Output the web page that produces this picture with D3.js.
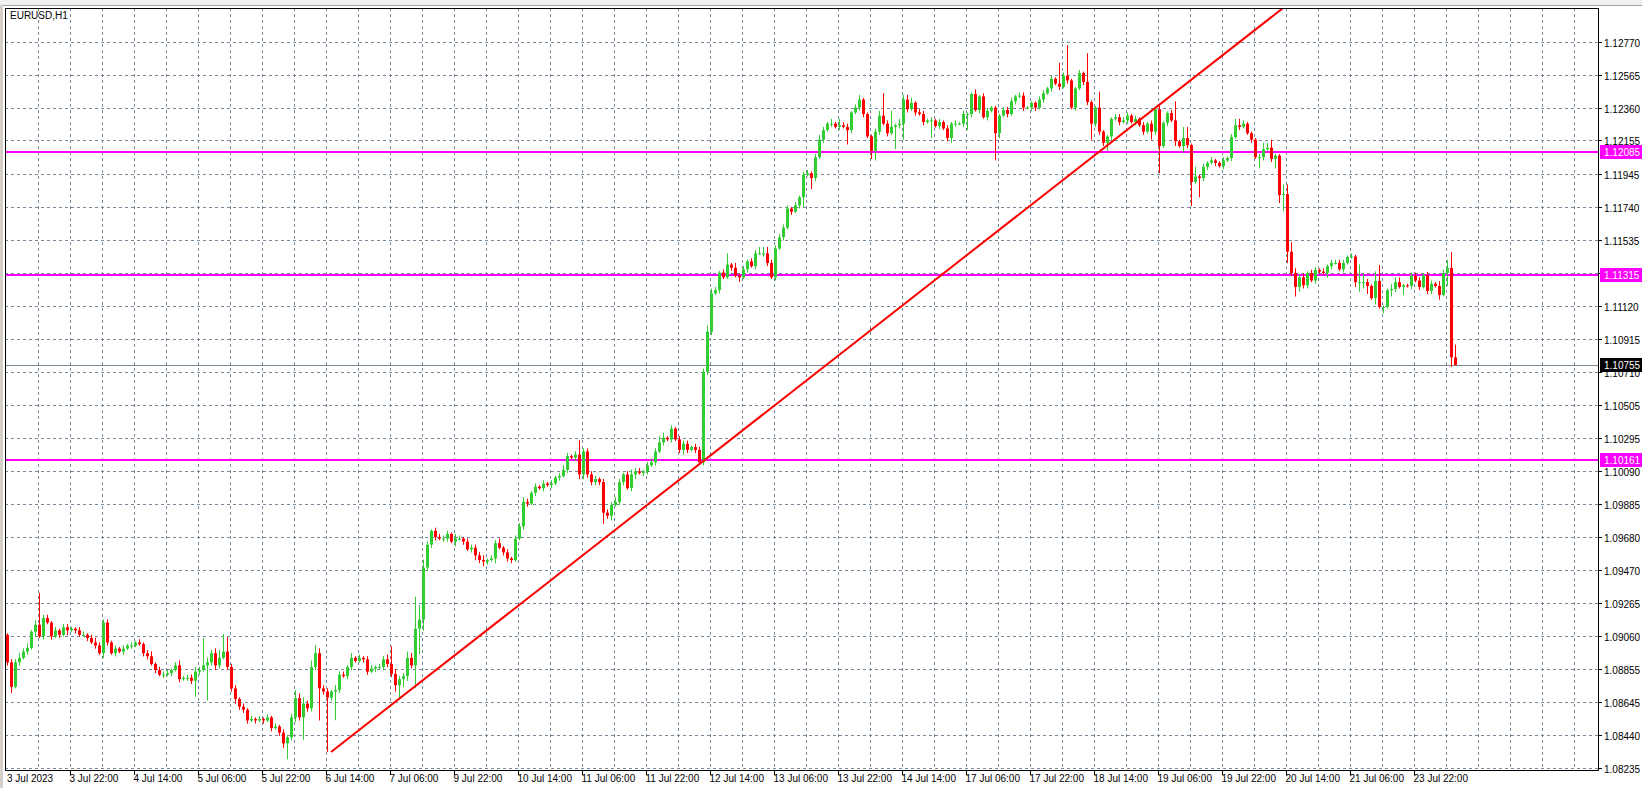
<!DOCTYPE html>
<html>
<head>
<meta charset="utf-8">
<script src="https://cdn.jsdelivr.net/npm/d3@7"></script>
<style>
  body { margin: 0; background: #fff; }
  svg { display: block; font-family: "Liberation Sans", Arial, sans-serif; }
</style>
</head>
<body>
<svg id="chart" width="1642" height="788"></svg>
<script>
// EURUSD H1 closes, in points (0.0001) above 1.08000
const closePts = [
  89.5,74.2,89.5,92.3,96.2,98.5,108.6,112.9,105.7,117.2,
  114.3,105.7,109.5,106.7,111.4,109.5,110.5,109.5,106.7,106.7,
  104.7,101.9,100,95.2,114.3,101.9,95.2,98.1,96.2,98.1,
  100,100,101.9,100.9,95.2,93.3,88.5,84.7,81.8,81.8,
  82.8,84.7,87.6,79,79.9,79.9,78,83.7,84.7,87.6,
  89.5,95.2,87.6,92.3,96.2,86.6,73.2,66.6,61.8,59.9,
  53.2,54.1,53.2,54.1,53.2,55.1,48.4,49.4,45.6,38.9,
  42.7,55.1,67.1,55.1,63.7,60.8,86.6,95.2,73.2,71.3,
  67.5,71.3,72.3,81.8,80.9,86.6,92.3,90.4,92.3,91.4,
  83.7,85.6,86.6,86.6,91.4,88.5,82.3,75.2,79,80.9,
  92.3,87.6,110.5,116.2,148.7,163,171.6,167.7,166.8,166.8,
  169.7,164.9,166.8,166.8,164.9,160.1,161.1,156.3,153.4,152.5,
  153.4,154.4,163.9,161.1,158.2,154.4,153.4,166.8,174.4,189.7,
  188.7,195.4,199.2,198.3,201.2,200.2,201.2,205,205.9,209.7,
  218.3,217.4,219.3,206.9,221.2,206.9,202.1,204,202.1,183,
  181.1,187.8,189.7,202.1,206.9,198.3,206.9,208.8,207.8,208.8,
  212.6,214.5,221.2,226.9,229.8,228.8,235.5,228.8,222.2,226,
  222.2,224,222.2,214.5,271,296,320,322,333,330,
  338,336,331,330,335,340,337,345,345,345,
  339,330,348,355,361,373,371,375,380,394,
  395,392,405,416,422,426,426,424,425,424,
  422,433,436,441,432,418,409,421,431,426,
  420,424,425,426,441,435,439,433,432,427,
  428,428,424.5,427,423,417,426,426,426,432,
  432,444.5,434.5,443,430,434,436,420,431,434.5,
  432,440,443,443.5,436,436,439,436,441,445,
  448,454,451,449,456,453,436,448,457.6,452,
  439.5,426,436,421,414,418,429,430,427,428,
  431,427,429,425,421,426,421,435,412,426.5,
  432.6,428,415,412,417,412.6,389.5,393,392,399,
  401.5,403,401.5,399.5,403,404.5,417.6,425,424,426,
  420,416,405,405,410,411,404,406,381.4,382,
  346,332.7,324,330,325,332.7,328,334.6,333.6,332.7,
  337,339,339,335,339,342.7,343,327,327,327,
  324.6,317,327.7,311.5,311.5,322,322.7,327,324,325,
  324.6,331,328,324,331.4,321.5,326,324.6,319,332.7,
  335.8,280,275.2
];
const firstOpenPts = 106.7;
// upper / lower wick lengths per bar, one base-36 digit each, in points
const upperWick =
  "12232313k2" + "2121221122" + "1232221212" + "1212123122" + "212312232h" +
  "3235b92212" + "1212121212" + "1253424532" + "2132213121" + "221223b322" +
  "43k9521222" + "2132122223" + "1223121223" + "2121212123" + "2129222212" +
  "2232123221" + "2224312122" + "2122243212" + "7131212244" + "4222221212" +
  "2123213142" + "212311123e" + "2a13333122" + "1212121212" + "1131221112" +
  "2212211122" + "121d2j1121" + "i11a111222" + "2121212121" + "12c1771612" +
  "1211212442" + "1112435116" + "6632212212" + "12222121b5" + "216a113331" +
  "1222122132" + "5a8";
const lowerWick =
  "2412121312" + "1212131211" + "2121321212" + "1211221212" + "1212122a21" +
  "m232122322" + "2121212123" + "a232e222k2" + "y2i2122112" + "2121222495" +
  "32eg722212" + "2131212323" + "2131222112" + "2121212121" + "2123322227" +
  "2312212312" + "2121212123" + "2121222121" + "1213121212" + "2121212126" +
  "1721212121" + "9212215621" + "21e2a21212" + "1b12123212" + "a212121h31" +
  "2121212212" + "1212121212" + "2a22252121" + "21212152h1" + "213142f1c2" +
  "2121212121" + "121721265a" + "7263221211" + "3211211364" + "5141414215" +
  "1212122131" + "860";

const priceLabels = ["1.12770","1.12565","1.12360","1.12155","1.11945","1.11740","1.11535","1.11330",
  "1.11120","1.10915","1.10710","1.10505","1.10295","1.10090","1.09885","1.09680","1.09470",
  "1.09265","1.09060","1.08855","1.08645","1.08440","1.08235"];
const timeLabels = ["3 Jul 22:00","4 Jul 14:00","5 Jul 06:00","5 Jul 22:00","6 Jul 14:00","7 Jul 06:00",
  "9 Jul 22:00","10 Jul 14:00","11 Jul 06:00","11 Jul 22:00","12 Jul 14:00","13 Jul 06:00",
  "13 Jul 22:00","14 Jul 14:00","17 Jul 06:00","17 Jul 22:00","18 Jul 14:00","19 Jul 06:00",
  "19 Jul 22:00","20 Jul 14:00","21 Jul 06:00","23 Jul 22:00"];
const levels = [1.12085, 1.11315, 1.10161];
const lastPrice = 1.10755;
const trendPoints = [{bar: 81, price: 1.08335}, {bar: 296, price: 1.12533}];

const svg = d3.select('#chart');
const W = 1642, H = 788;
const plot = {left: 5, top: 8, right: 1598, bottom: 770};

const x = d3.scaleLinear().domain([0, closePts.length - 1]).range([7, 7 + 4 * (closePts.length - 1)]);
const y = d3.scaleLinear().domain([1.08235, 1.12770]).range([768, 42]);

const pt = v => 1.08 + v / 10000;
const bars = closePts.map((c, i) => {
  const o = i === 0 ? firstOpenPts : closePts[i - 1];
  const hw = parseInt(upperWick[i] || '1', 36), lw = parseInt(lowerWick[i] || '1', 36);
  return {i, o: pt(o), c: pt(c), h: pt(Math.max(o, c) + hw), l: pt(Math.min(o, c) - lw)};
});

// window chrome
svg.append('rect').attr('width', W).attr('height', 5).attr('fill', '#f0f0f0');
svg.append('line').attr('x1', 0).attr('x2', W).attr('y1', 5.5).attr('y2', 5.5).attr('stroke', '#a0a0a0');
svg.append('rect').attr('x', 0).attr('y', 5).attr('width', 3).attr('height', H).attr('fill', '#d4d0c8');

svg.append('defs').append('clipPath').attr('id', 'clip')
  .append('rect').attr('x', plot.left).attr('y', plot.top)
  .attr('width', plot.right - plot.left).attr('height', plot.bottom - plot.top);

const grid = svg.append('g').attr('stroke', '#778899').attr('stroke-dasharray', '3,3').attr('stroke-width', 1);
priceLabels.forEach(s => {
  const yy = Math.round(y(+s)) + 0.5;
  grid.append('line').attr('x1', plot.left).attr('x2', plot.right).attr('y1', yy).attr('y2', yy);
});
for (let b = 7.75; x(b) < plot.right; b += 8) {
  const xx = Math.round(x(b)) + 0.5;
  grid.append('line').attr('x1', xx).attr('x2', xx).attr('y1', plot.top).attr('y2', plot.bottom);
}

const g = svg.append('g').attr('clip-path', 'url(#clip)');

// levels and current price
g.append('line').attr('x1', plot.left).attr('x2', plot.right)
  .attr('y1', Math.round(y(lastPrice)) + 0.5).attr('y2', Math.round(y(lastPrice)) + 0.5)
  .attr('stroke', '#778899');
levels.forEach(p => {
  g.append('line').attr('x1', plot.left).attr('x2', plot.right)
    .attr('y1', Math.round(y(p))).attr('y2', Math.round(y(p)))
    .attr('stroke', '#ff00ff').attr('stroke-width', 2);
});

// candles
const up = '#32cd32', dn = '#ff0000';
const cg = g.selectAll('.bar').data(bars).enter().append('g');
cg.append('line')
  .attr('x1', d => x(d.i) + 0.5).attr('x2', d => x(d.i) + 0.5)
  .attr('y1', d => y(d.h)).attr('y2', d => y(d.l))
  .attr('stroke', d => d.c >= d.o ? up : dn);
cg.append('rect')
  .attr('x', d => x(d.i) - 1).attr('width', 3)
  .attr('y', d => y(Math.max(d.o, d.c)))
  .attr('height', d => Math.max(1, y(Math.min(d.o, d.c)) - y(Math.max(d.o, d.c))))
  .attr('fill', d => d.c >= d.o ? up : dn);

// trend line (ray)
const [p1, p2] = trendPoints;
const slope = (p2.price - p1.price) / (p2.bar - p1.bar);
const endBar = p1.bar + (y.invert(plot.top) - p1.price) / slope;
g.append('line')
  .attr('x1', x(p1.bar)).attr('y1', y(p1.price))
  .attr('x2', x(endBar)).attr('y2', y(y.invert(plot.top)))
  .attr('stroke', '#ff0000').attr('stroke-width', 2);

// frame
svg.append('rect').attr('x', plot.left + 0.5).attr('y', plot.top + 0.5)
  .attr('width', plot.right - plot.left).attr('height', plot.bottom - plot.top)
  .attr('fill', 'none').attr('stroke', '#000');

svg.append('text').attr('x', 10).attr('y', 19).attr('font-size', 10).text('EURUSD,H1');

// price axis
const ax = svg.append('g').attr('font-size', 10);
priceLabels.forEach(s => {
  const yy = Math.round(y(+s)) + 0.5;
  ax.append('line').attr('x1', plot.right).attr('x2', plot.right + 4).attr('y1', yy).attr('y2', yy).attr('stroke', '#000');
  ax.append('text').attr('x', plot.right + 6).attr('y', yy + 4).text(s);
});
function priceBox(p, fill) {
  const yy = Math.round(y(p));
  ax.append('rect').attr('x', plot.right + 2).attr('y', yy - 7).attr('width', 42).attr('height', 14).attr('fill', fill);
  ax.append('text').attr('x', plot.right + 6).attr('y', yy + 4).attr('fill', '#fff').text(p.toFixed(5));
}
levels.forEach(p => priceBox(p, '#ff00ff'));
priceBox(lastPrice, '#000');

// time axis
const tx = svg.append('g').attr('font-size', 10);
tx.append('text').attr('x', 7).attr('y', 782).text('3 Jul 2023');
timeLabels.forEach((s, k) => {
  const xx = Math.round(x(15.75 + 16 * k)) + 0.5;
  tx.append('line').attr('x1', xx).attr('x2', xx).attr('y1', plot.bottom).attr('y2', plot.bottom + 5).attr('stroke', '#000');
  tx.append('text').attr('x', xx - 1).attr('y', 782).text(s);
});
</script>
</body>
</html>
